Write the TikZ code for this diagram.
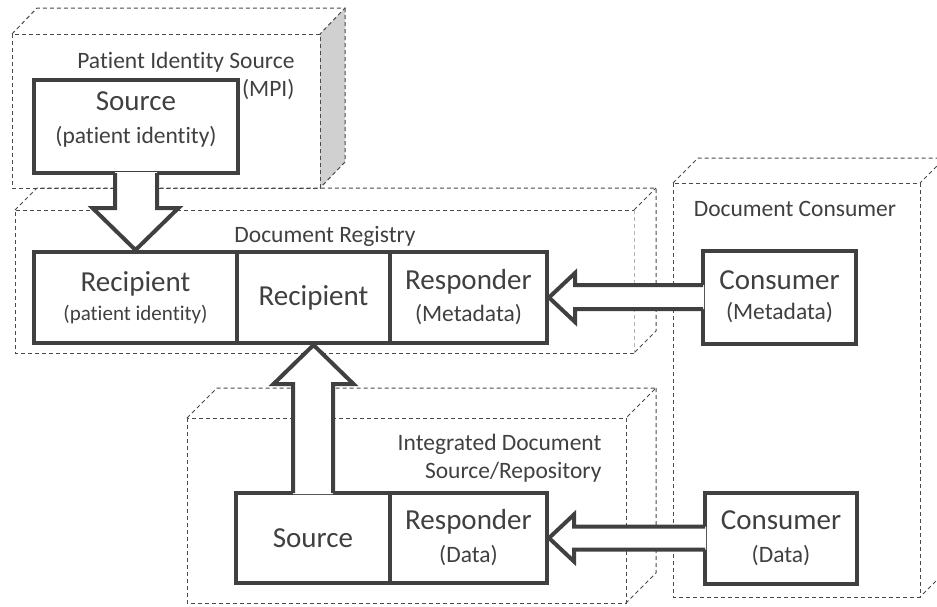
\documentclass[tikz,border=0pt]{standalone}
\usepackage{fontspec}
\setmainfont[Ligatures={NoCommon,NoContextual}]{Carlito}
\usetikzlibrary{calc}
\definecolor{boxline}{HTML}{404040}
\definecolor{cubeline}{HTML}{4A4A4A}
\definecolor{hiddenline}{HTML}{B4B4B4}
\definecolor{facegray}{HTML}{D0D0D0}
\newcommand{\bigtxt}{\fontsize{29}{31}\selectfont}
\newcommand{\smalltxt}{\fontsize{23.5}{28}\selectfont}
\newcommand{\tinytxt}{\fontsize{21}{25}\selectfont}
\tikzset{
  unit/.style={draw=boxline, line width=4pt, fill=white, inner sep=0pt,
    align=center, font=\bigtxt, text=boxline},
  cube/.style={draw=cubeline, line width=1pt, dash pattern=on 4pt off 3pt},
  tag/.style={font=\smalltxt, text=boxline},
  blockfill/.style={fill=white},
  blockline/.style={draw=boxline, line width=4pt, line join=miter},
}

\begin{document}
\begin{tikzpicture}[x=1pt,y=-1pt]
  \useasboundingbox (0,0) rectangle (937,606);

  % dashed boxes
  \fill[facegray] (320,34) -- (345,8) -- (345,162) -- (320,188) -- cycle;
  \draw[cube] (12,34) rectangle (320,188);
  \draw[cube] (12,34) -- (37,8) -- (345,8) -- (320,34);
  \draw[cube] (345,8) -- (345,162) -- (320,188);

  \draw[cube] (15,210) -- (37,188) -- (656,188) -- (656,331) -- (634,353);
  \draw[cube] (634,210) -- (656,188);
  \draw[cube] (634,353) -- (15,353) -- (15,210) -- (634,210);
  \draw[cube, draw=hiddenline] (634,210) -- (634,353);

  \draw[cube] (187,418) rectangle (626,603);
  \draw[cube] (187,418) -- (217,388) -- (656,388) -- (626,418);
  \draw[cube] (656,388) -- (656,573) -- (626,603);

  \draw[cube] (673,183) rectangle (920,597);
  \draw[cube] (673,183) -- (698,158) -- (945,158) -- (920,183);
  \draw[cube] (945,158) -- (945,572) -- (920,597);

  % labels
  \node[tag, align=right, anchor=east] (pisrc) at (298,76) {Patient Identity Source\\(MPI)};
  \node[tag] (regtag) at (325,236) {Document Registry};
  \node[tag] (contag) at (795,209) {Document Consumer};
  \node[tag, align=right, anchor=east] (reptag) at (605,458) {Integrated Document\\Source/Repository};

  % actors
  \node[unit, minimum width=204pt, minimum height=93pt, text depth=17pt] (srcpi) at (136,126.5) {Source\\[2pt]{\smalltxt (patient identity)}};
  \node[unit, minimum width=203pt, minimum height=91pt] (recpi) at (135.5,297.5) {Recipient\\[-2pt]{\tinytxt (patient identity)}};
  \node[unit, minimum width=153pt, minimum height=91pt] (recdoc) at (313.5,297.5) {Recipient};
  \node[unit, minimum width=157pt, minimum height=91pt] (respmeta) at (468.5,297.5) {Responder\\[1pt]{\smalltxt (Metadata)}};
  \node[unit, minimum width=153pt, minimum height=93pt] (conmeta) at (779.5,297) {Consumer\\[-1pt]{\smalltxt (Metadata)}};
  \node[unit, minimum width=154pt, minimum height=90pt] (srcdoc) at (313,538) {Source};
  \node[unit, minimum width=157pt, minimum height=90pt] (respdata) at (468.5,538) {Responder\\[2pt]{\smalltxt (Data)}};
  \node[unit, minimum width=152pt, minimum height=91pt] (condata) at (781,538) {Consumer\\[2pt]{\smalltxt (Data)}};

  % block arrows
  \fill[blockfill] ($(srcpi.south)+(-21,-3)$) |- ($(recpi.north)+(-43,-42)$) -- (recpi.north)
    -- ($(recpi.north)+(43,-42)$) -| ($(srcpi.south)+(21,-3)$) -- cycle;
  \draw[blockline] ($(srcpi.south)+(-21,-2)$) |- ($(recpi.north)+(-43,-42)$) -- (recpi.north)
    -- ($(recpi.north)+(43,-42)$) -| ($(srcpi.south)+(21,-2)$);

  \fill[blockfill] ($(srcdoc.north)+(-20,3)$) |- ($(recdoc.south)+(-40,39)$) -- (recdoc.south)
    -- ($(recdoc.south)+(40,39)$) -| ($(srcdoc.north)+(20,3)$) -- cycle;
  \draw[blockline] ($(srcdoc.north)+(-20,2)$) |- ($(recdoc.south)+(-40,39)$) -- (recdoc.south)
    -- ($(recdoc.south)+(40,39)$) -| ($(srcdoc.north)+(20,2)$);

  \fill[blockfill] ($(conmeta.west)+(3,-12)$) -| ($(respmeta.east)+(26,-24.5)$) -- (respmeta.east)
    -- ($(respmeta.east)+(26,24.5)$) |- ($(conmeta.west)+(3,12)$) -- cycle;
  \draw[blockline] ($(conmeta.west)+(2,-12)$) -| ($(respmeta.east)+(26,-24.5)$) -- (respmeta.east)
    -- ($(respmeta.east)+(26,24.5)$) |- ($(conmeta.west)+(2,12)$);

  \fill[blockfill] ($(condata.west)+(3,-11.5)$) -| ($(respdata.east)+(25,-23.5)$) -- (respdata.east)
    -- ($(respdata.east)+(25,23.5)$) |- ($(condata.west)+(3,11.5)$) -- cycle;
  \draw[blockline] ($(condata.west)+(2,-11.5)$) -| ($(respdata.east)+(25,-23.5)$) -- (respdata.east)
    -- ($(respdata.east)+(25,23.5)$) |- ($(condata.west)+(2,11.5)$);
\end{tikzpicture}
\end{document}
